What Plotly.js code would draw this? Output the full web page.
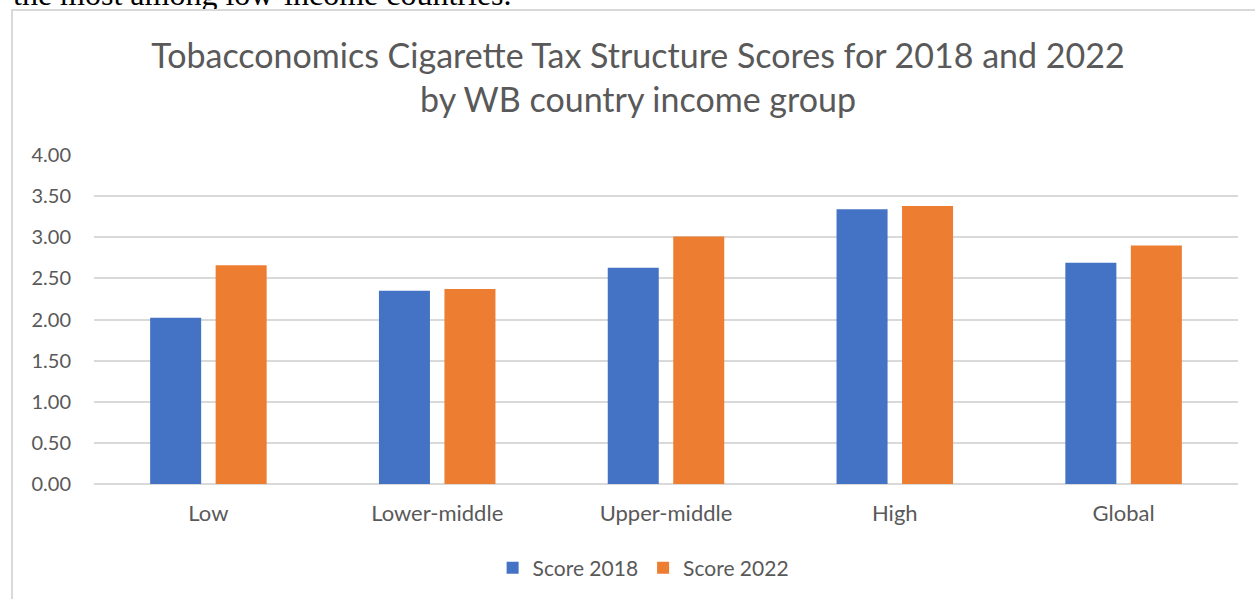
<!DOCTYPE html>
<html>
<head>
<meta charset="utf-8">
<script src="https://cdn.plot.ly/plotly-3.0.1.min.js"></script>
<style>
  html, body { margin: 0; padding: 0; width: 1255px; height: 599px; overflow: hidden; background: #ffffff; }
  #lead { position: absolute; left: 13px; top: -22.5px; font-family: "Liberation Serif", "Times New Roman", serif; font-size: 32px; line-height: 32px; color: #000; white-space: nowrap; }
  #frame { position: absolute; left: 11px; top: 9px; width: 1400px; height: 800px; border: 2px solid #d9d9d9; background: #ffffff; }
  #chart { position: absolute; left: 0; top: 0; width: 1255px; height: 599px; }
</style>
</head>
<body>
<div id="lead">the most among low-income countries.</div>
<div id="frame"></div>
<div id="chart"></div>
<script>
const categories = ["Low", "Lower-middle", "Upper-middle", "High", "Global"];
const score2018 = [2.02, 2.35, 2.63, 3.34, 2.69];
const score2022 = [2.66, 2.37, 3.01, 3.38, 2.90];
const seriesNames = ["Score 2018", "Score 2022"];
const yTicks = [0, 0.5, 1, 1.5, 2, 2.5, 3, 3.5, 4];

const FONT = "Lato, 'Open Sans', sans-serif";
const GREY = "#595959";

const traces = [
  { type: "bar", name: seriesNames[0], x: categories, y: score2018, marker: { color: "#4472C4" }, hoverinfo: "x+y" },
  { type: "bar", name: seriesNames[1], x: categories, y: score2022, marker: { color: "#ED7D31" }, hoverinfo: "x+y" }
];

const layout = {
  width: 1255, height: 599,
  margin: { l: 94, r: 17, t: 155, b: 114, pad: 0 },
  paper_bgcolor: "rgba(0,0,0,0)",
  plot_bgcolor: "rgba(0,0,0,0)",
  font: { family: FONT, color: GREY, size: 20 },
  title: {
    text: "Tobacconomics Cigarette Tax Structure Scores for 2018 and 2022<br>by WB country income group",
    font: { family: FONT, size: 34, color: GREY },
    x: 638 / 1255, xanchor: "center", xref: "container",
    y: 1 - 68 / 599, yref: "container", yanchor: "middle"
  },
  barmode: "group",
  bargap: 0.4275,
  bargroupgap: 0.221,
  showlegend: true,
  legend: {
    orientation: "h", x: 0.48, xanchor: "center", y: -0.252, yanchor: "middle",
    font: { family: FONT, size: 21, color: GREY },
    itemwidth: 30, traceorder: "normal"
  },
  xaxis: {
    type: "category",
    showgrid: false, zeroline: false, showline: false,
    ticks: "", ticklabelstandoff: 14,
    tickfont: { family: FONT, size: 22, color: GREY },
    fixedrange: true
  },
  yaxis: {
    range: [0, 4], autorange: false,
    tickvals: yTicks,
    tickformat: ".2f",
    showgrid: true, gridcolor: "#d9d9d9", gridwidth: 1.5,
    zeroline: true, zerolinecolor: "#d9d9d9", zerolinewidth: 1.5,
    showline: false, ticks: "",
    ticklabelstandoff: 22,
    tickfont: { family: FONT, size: 20, color: GREY },
    fixedrange: true
  }
};

Plotly.newPlot("chart", traces, layout, { displayModeBar: false, staticPlot: false });
</script>
</body>
</html>
